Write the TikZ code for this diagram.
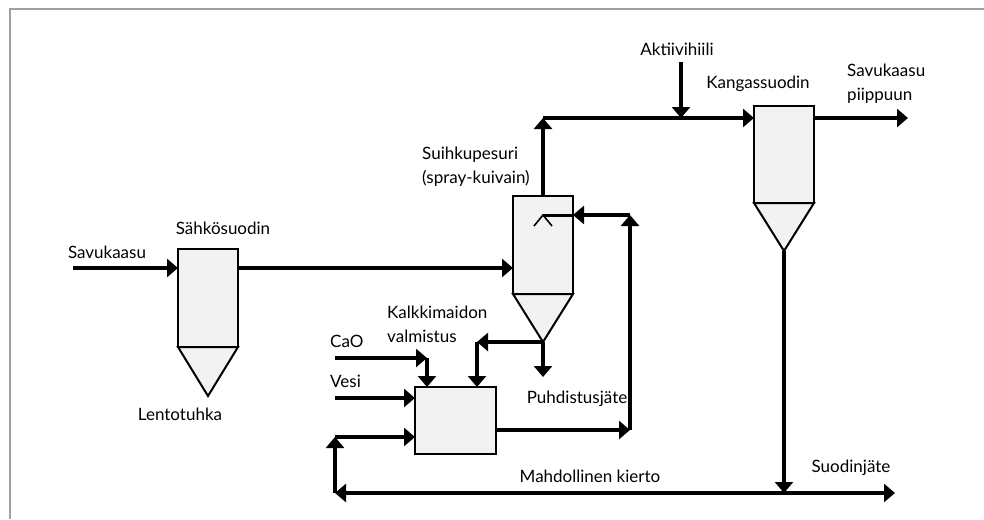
\documentclass[tikz,border=0pt]{standalone}
\usepackage{fontspec}
\setmainfont{Lato}
\usepackage{xcolor}
\definecolor{unitfill}{RGB}{242,242,242}
\definecolor{framegray}{RGB}{160,160,160}
\usepackage{tikz}
\usetikzlibrary{arrows.meta, positioning, calc}

\tikzset{
  flow/.style={line width=3.6pt, -{Triangle[length=11pt,width=18pt]}},
  unitbox/.style={draw, line width=2pt, fill=unitfill, inner sep=0pt, outer sep=0pt},
  lbl/.style={font=\fontsize{17}{24}\selectfont, inner sep=0pt},
}

\begin{document}
\begin{tikzpicture}[x=1pt, y=-1pt]
      \useasboundingbox (0,0) rectangle (984,519);
      \draw[framegray, line width=1.5pt] (10,519) -- (10,9) -- (984,9);
      % units: rectangles and cones
      \node[unitbox, minimum width=60pt, minimum height=98pt] (esp) at (208,298) {};
      \node[unitbox, minimum width=60pt, minimum height=98pt] (spray) at (543,245) {};
      \node[unitbox, minimum width=60pt, minimum height=97pt] (fab) at (784,154.5) {};
      \node[unitbox, minimum width=81pt, minimum height=67pt] (mix) at (455.5,420.5) {};
      \coordinate (espcone) at (208,396);
      \coordinate (spraycone) at (543,342);
      \coordinate (fabcone) at (784,251);
      \draw[unitbox] (esp.south west) -- (espcone) -- (esp.south east) -- cycle;
      \draw[unitbox] (spray.south west) -- (spraycone) -- (spray.south east) -- cycle;
      \draw[unitbox] (fab.south west) -- (fabcone) -- (fab.south east) -- cycle;
      % free ends and bends
      \coordinate (gasin) at (73,268);
      \coordinate (topbend) at (543,118);
      \coordinate (akt) at (681,62);
      \coordinate (stack) at (908,118);
      \coordinate (wasteend) at (895,493);
      \coordinate (loopcorner) at (335,493);
      \coordinate (loopturn) at (335,437);
      \coordinate (cao) at (335,358);
      \coordinate (caoturn) at (427,358);
      \coordinate (vesi) at (335,398);
      \coordinate (slurryturn) at (477,342);
      \coordinate (puhd) at (543,377);
      \coordinate (mixturn) at (630,430);
      \coordinate (sprayturn) at (630,215);
      \coordinate (nozzle) at (543,215);
      % gas line
      \draw[flow] (gasin) -- (gasin -| esp.west);
      \draw[flow] (esp.east |- gasin) -- (spray.west |- gasin);
      \draw[flow] (spray.north) -- (topbend);
      \draw[flow] (topbend) -- (topbend -| fab.west);
      \draw[flow] (akt) -- (akt |- topbend);
      \draw[flow] (fab.east |- stack) -- (stack);
      % residues and recirculation
      \draw[flow] (fabcone) -- (fabcone |- wasteend);
      \draw[flow, {Triangle[length=11pt,width=18pt]}-{Triangle[length=11pt,width=18pt]}] (loopcorner) -- (wasteend);
      \draw[flow] (loopcorner) -- (loopturn);
      \draw[flow] (loopturn) -- (loopturn -| mix.west);
      \draw[flow] (cao) -- (caoturn);
      \draw[flow] (caoturn) -- (caoturn |- mix.north);
      \draw[flow] (vesi) -- (vesi -| mix.west);
      \draw[flow] (spraycone) -- (slurryturn);
      \draw[flow] (slurryturn) -- (slurryturn |- mix.north);
      \draw[flow] (spraycone) -- (puhd);
      % lime milk to nozzle
      \draw[flow] (mix.east |- mixturn) -- (mixturn);
      \draw[flow] (mixturn) -- (sprayturn);
      \draw[flow] (sprayturn) -- (sprayturn -| spray.east);
      \draw[line width=3pt] (sprayturn -| spray.east) -- (nozzle);
      \draw[line width=1.6pt] ($(nozzle)+(-9,11)$) -- (nozzle) -- ($(nozzle)+(9,11)$);
      % labels
      \node[lbl] (lgasin) at (107,252) {Savukaasu};
      \node[lbl] (lesp) at (223,228) {Sähkösuodin};
      \node[lbl] (lash) at (180,414) {Lentotuhka};
      \node[lbl, anchor=west, align=left] (lspray) at (422,167) {Suihkupesuri\\(spray-kuivain)};
      \node[lbl] (lakt) at (677,49) {Aktiivihiili};
      \node[lbl] (lfab) at (758,84) {Kangassuodin};
      \node[lbl, anchor=west, align=left] (lstack) at (847,84) {Savukaasu\\piippuun};
      \node[lbl, anchor=west, align=left] (lmix) at (387,324) {Kalkkimaidon\\valmistus};
      \node[lbl, anchor=west] (lcao) at (330,341) {CaO};
      \node[lbl, anchor=west] (lvesi) at (330,381) {Vesi};
      \node[lbl] (lpuhd) at (577,399) {Puhdistusjäte};
      \node[lbl] (lloop) at (590,476) {Mahdollinen kierto};
      \node[lbl] (lwaste) at (851,468) {Suodinjäte};
\end{tikzpicture}
\end{document}
